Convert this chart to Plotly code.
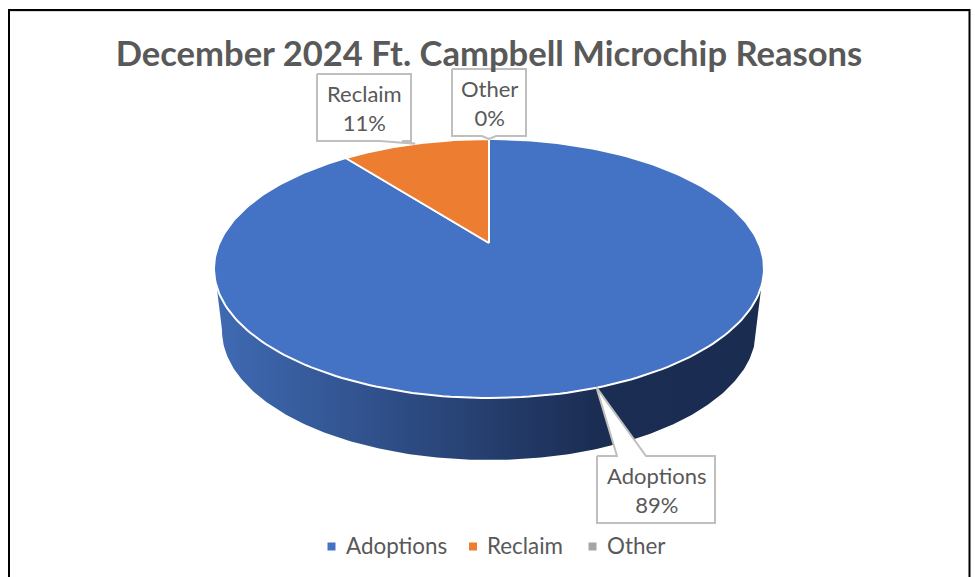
import math
import plotly.graph_objects as go

# Data
categories = ["Adoptions", "Reclaim", "Other"]
counts = [17, 2, 0]
percent_labels = ["89%", "11%", "0%"]
colors = ["#4472C4", "#ED7D31", "#A5A5A5"]
title_text = "December 2024 Ft. Campbell Microchip Reasons"

TEXT = "#595959"
BOX = "#BFBFBF"
FONT = "Lato"

# Perspective projection of the pie disc into page pixels
CX, APEX_Y, C, A, D = 489.0, 243.0, 0.197, -76.6, 269.6
DEPTH, BOTTOM_SCALE = 62.0, 0.971


def project(theta, drop=0.0, scale=1.0):
    u, v = math.sin(theta), math.cos(theta)
    den = 1 + C * v
    return CX + scale * D * u / den, (APEX_Y + A * v) / den + drop


def arc(t0, t1, n=240, **kw):
    pts = [project(t0 + (t1 - t0) * i / n, **kw) for i in range(n + 1)]
    return [p[0] for p in pts], [p[1] for p in pts]


total = sum(counts)
angles = [0.0]
for c in counts:
    angles.append(angles[-1] + 2 * math.pi * c / total)

fig = go.Figure()

# Side wall
wx, wy = arc(math.radians(101), math.radians(259), drop=DEPTH, scale=BOTTOM_SCALE)
lx, ly = project(math.radians(251))
rx, ry = project(math.radians(109))
fig.add_trace(go.Scatter(
    x=[rx] + wx + [lx, rx], y=[ry] + wy + [ly, ry],
    mode="lines", fill="toself", line=dict(width=0),
    fillgradient=dict(type="horizontal", colorscale=[
        [0, "#3F6AB3"], [0.695, "#1B2D53"], [1, "#1A2C50"]]),
    hoverinfo="skip", showlegend=False))

# Top-face slices
for i, name in enumerate(categories):
    ax, ay = arc(angles[i], angles[i + 1])
    fig.add_trace(go.Scatter(
        x=[CX] + ax + [CX], y=[APEX_Y] + ay + [APEX_Y],
        mode="lines", fill="toself", fillcolor=colors[i],
        line=dict(color="white", width=2), name=name,
        hoverinfo="name", showlegend=False))

# Callouts: box position per label, tail tip from slice mid-angle
label_boxes = [(597, 456, 715, 523), (317, 74, 411, 141), (452, 69, 526, 136)]
tail_bases = [(617, 646), (380, 402), (482, 496)]
for i, name in enumerate(categories):
    x0, y0, x1, y1 = label_boxes[i]
    tx, ty = project((angles[i] + angles[i + 1]) / 2)
    b0, b1 = tail_bases[i]
    if i == 0:
        px = [x0, b0, tx, b1, x1, x1, x0, x0]
        py = [y0, y0, ty, y0, y0, y1, y1, y0]
    else:
        px = [x0, x1, x1, b1, tx, b0, x0, x0]
        py = [y0, y0, y1, y1, ty, y1, y1, y0]
    fig.add_trace(go.Scatter(
        x=px, y=py, mode="lines", fill="toself", fillcolor="white",
        line=dict(color=BOX, width=2), hoverinfo="skip", showlegend=False))
    fig.add_annotation(
        x=(x0 + x1) / 2, y=(y0 + y1) / 2, xref="x", yref="y", showarrow=False,
        text=f"{name}<br>{percent_labels[i]}", align="center",
        font=dict(family=FONT, size=22, color=TEXT))

# Legend entries, placed by hand for the tight marker-to-text gap
legend_marker_x = [331.5, 473, 592.5]
LEGEND_Y = 546.5
for name, col, mx in zip(categories, colors, legend_marker_x):
    fig.add_trace(go.Scatter(
        x=[mx], y=[LEGEND_Y], mode="markers", name=name,
        marker=dict(symbol="square", size=8, color=col),
        hoverinfo="name", showlegend=False))
    fig.add_annotation(
        x=mx + 13, y=LEGEND_Y - 1, xref="x", yref="y", showarrow=False,
        text=name, xanchor="left", yanchor="middle", xshift=-1,
        font=dict(family=FONT, size=22.4, color=TEXT))

# Page frame
fig.add_shape(type="path", path="M 9 600 L 9 10 L 969.5 10 L 969.5 600",
              line=dict(color="black", width=2), layer="above")
fig.add_shape(type="line", x0=10, x1=968, y0=11.5, y1=11.5,
              line=dict(color="#D9D9D9", width=1))

fig.update_layout(
    width=975, height=577,
    margin=dict(l=0, r=0, t=0, b=0),
    paper_bgcolor="white", plot_bgcolor="white",
    title=dict(text=f"<b>{title_text}</b>", x=489 / 975, y=1 - 54 / 577,
               xanchor="center", yanchor="middle",
               font=dict(family=FONT, size=34.6, color=TEXT)),
    xaxis=dict(range=[0, 975], visible=False, fixedrange=True),
    yaxis=dict(range=[577, 0], visible=False, fixedrange=True),
    showlegend=False,
)

fig.write_html("out.html", config={"displayModeBar": False},
               post_script="document.body.style.margin='0';document.body.style.overflow='hidden';")
